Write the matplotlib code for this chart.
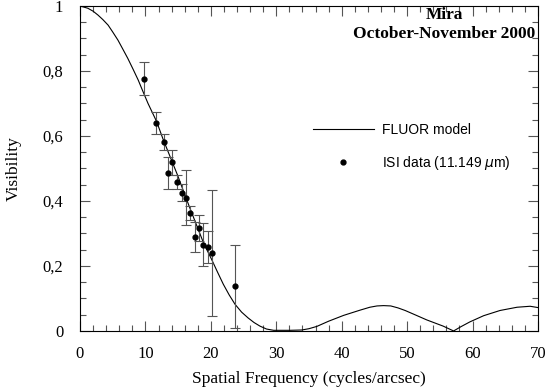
import numpy as np
import matplotlib
matplotlib.use('Agg')
import matplotlib.pyplot as plt
from matplotlib.ticker import MultipleLocator, FixedLocator

# FLUOR model curve
model_freq = [0, 1.2, 2.0, 2.75, 3.5, 4.3, 5.0, 5.8, 6.5, 7.3, 8.1, 8.9, 9.6, 10.4, 11.7,
              12.7, 14.1, 14.9, 16.1, 16.8, 18.9, 20.1, 21.0, 21.9, 22.8, 23.7, 24.7,
              25.7, 26.6, 27.5, 28.5, 29.6, 32.1, 33.9, 35.0, 36.2, 38.0, 40.3, 42.8,
              44.3, 45.4, 46.4, 47.5, 48.6, 49.7, 51.3, 53.0, 55.5, 57.1, 58.3, 59.6,
              61.7, 64.2, 66.8, 68.8, 70.0]
model_vis = [1.0, 0.993, 0.984, 0.972, 0.958, 0.941, 0.920, 0.895, 0.869, 0.839, 0.806,
             0.772, 0.738, 0.700, 0.645, 0.590, 0.520, 0.480, 0.415, 0.378, 0.270, 0.221,
             0.182, 0.144, 0.111, 0.082, 0.058, 0.040, 0.026, 0.015, 0.006, 0.002,
             0.002, 0.003, 0.007, 0.014, 0.030, 0.048, 0.064, 0.073, 0.077, 0.078,
             0.077, 0.071, 0.063, 0.049, 0.034, 0.015, 0.0, 0.014, 0.028, 0.047, 0.063,
             0.073, 0.076, 0.072]

# ISI data (11.149 um)
isi_freq = [9.74, 11.62, 12.8, 13.46, 14.1, 14.83, 15.54, 16.2, 16.87, 17.53, 18.25,
            18.86, 19.52, 20.18, 23.75]
isi_vis = [0.776, 0.641, 0.582, 0.487, 0.519, 0.459, 0.426, 0.41, 0.363, 0.290, 0.316,
           0.266, 0.259, 0.240, 0.137]
isi_err = [0.051, 0.034, 0.024, 0.049, 0.038, 0.022, 0.025, 0.085, 0.022, 0.046, 0.040,
           0.065, 0.050, 0.195, 0.127]

serif = 'Liberation Serif'

fig = plt.figure(figsize=(5.46, 3.88), dpi=100)
ax = fig.add_axes([0.1465, 0.147, 0.8388, 0.8376])

ax.plot(model_freq, model_vis, color='black', lw=0.8, label='FLUOR model')
ax.errorbar(isi_freq, isi_vis, yerr=isi_err, fmt='none', ecolor='#555555',
            elinewidth=0.8, capsize=3.4, capthick=0.8)
ax.plot(isi_freq, isi_vis, 'o', color='black', ms=3.5, label=r'ISI data (11.149 $\mu$m)')

ax.set_xlim(0, 70)
ax.set_ylim(0, 1)
ax.xaxis.set_major_locator(MultipleLocator(10))
ax.xaxis.set_minor_locator(MultipleLocator(2))
ax.yaxis.set_major_locator(FixedLocator([0, 0.2, 0.4, 0.6, 0.8, 1.0]))
ax.yaxis.set_minor_locator(MultipleLocator(0.05))
ax.set_yticklabels(['0', '0,2', '0,4', '0,6', '0,8', '1'])
ax.tick_params(which='both', direction='in', top=True, right=True, color='#555555')
ax.tick_params(which='major', length=7, width=0.8, labelsize=12)
ax.tick_params(axis='x', pad=11)
ax.tick_params(axis='y', pad=12)
ax.tick_params(which='minor', length=4.5, width=0.8)
for lab in ax.get_xticklabels() + ax.get_yticklabels():
    lab.set_family(serif)
for s in ax.spines.values():
    s.set_linewidth(0.8)

ax.set_xlabel('Spatial Frequency (cycles/arcsec)', family=serif, fontsize=12.5, labelpad=6)
ax.set_ylabel('Visibility', family=serif, fontsize=12.5, labelpad=15)

ax.text(0.796, 0.943, 'Mira\nOctober-November 2000', transform=ax.transAxes,
        ha='center', va='center', family=serif, fontweight='bold', fontsize=12.5,
        linespacing=1.2)

leg = ax.legend(loc='upper left', bbox_to_anchor=(0.508, 0.64), frameon=False,
                borderaxespad=0, borderpad=0, handlelength=4.4, handletextpad=0.6,
                labelspacing=1.2, prop={'family': 'Liberation Sans', 'size': 10})

fig.savefig('out.png', dpi=100)
